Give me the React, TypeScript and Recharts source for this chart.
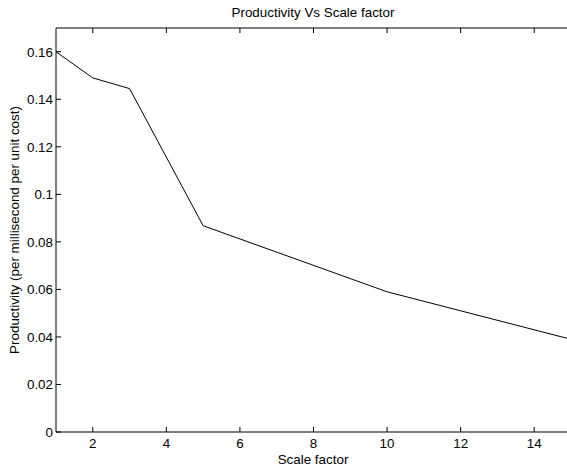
import { LineChart, Line, XAxis, YAxis } from "recharts";

const scaleFactor = [1, 2, 3, 5, 10, 15];
const productivity = [0.16, 0.149, 0.1445, 0.0868, 0.059, 0.039];
const xTicks = [2, 4, 6, 8, 10, 12, 14];
const yTicks = [0, 0.02, 0.04, 0.06, 0.08, 0.1, 0.12, 0.14, 0.16];
const yLabels = ["0", "0.02", "0.04", "0.06", "0.08", "0.1", "0.12", "0.14", "0.16"];

const data = scaleFactor.map((s, i) => ({ s, p: productivity[i] }));

const FONT = "'Liberation Sans', Arial, Helvetica, sans-serif";
const FS = 13.4;
const TICK = 5;

function BottomTick({ x, y, payload }: any) {
  return (
    <g>
      <line x1={x} y1={y} x2={x} y2={y - TICK} stroke="#000" />
      <text x={x} y={y + 16} textAnchor="middle" fontSize={FS} fontFamily={FONT} fill="#000">
        {payload.value}
      </text>
    </g>
  );
}

function TopTick({ x, y }: any) {
  return <line x1={x} y1={y} x2={x} y2={y + TICK} stroke="#000" />;
}

function LeftTick({ x, y, payload, index }: any) {
  return (
    <g>
      <line x1={x} y1={y} x2={x + TICK} y2={y} stroke="#000" />
      <text x={x - 3} y={y + 5} textAnchor="end" fontSize={FS} fontFamily={FONT} fill="#000">
        {yLabels[index] ?? payload.value}
      </text>
    </g>
  );
}

function RightTick({ x, y }: any) {
  return <line x1={x} y1={y} x2={x - TICK} y2={y} stroke="#000" />;
}

export default function App() {
  return (
    <div
      style={{
        position: "absolute",
        left: 0,
        top: 0,
        width: 567,
        height: 469,
        overflow: "hidden",
        background: "#fff",
      }}
    >
      <LineChart width={580} height={469} data={data} margin={{ top: 0, right: 0, bottom: 0, left: 0 }}>
        <XAxis
          xAxisId="b"
          dataKey="s"
          type="number"
          domain={[1, 15]}
          ticks={xTicks}
          height={37}
          tickSize={0}
          tickMargin={0}
          tick={<BottomTick />}
          axisLine={{ stroke: "#000" }}
          tickLine={false}
        />
        <XAxis
          xAxisId="t"
          orientation="top"
          dataKey="s"
          type="number"
          domain={[1, 15]}
          ticks={xTicks}
          height={28}
          tickSize={0}
          tickMargin={0}
          tick={<TopTick />}
          axisLine={{ stroke: "#000" }}
          tickLine={false}
        />
        <YAxis
          yAxisId="l"
          type="number"
          domain={[0, 0.17]}
          ticks={yTicks}
          width={56}
          tickSize={0}
          tickMargin={0}
          tick={<LeftTick />}
          axisLine={{ stroke: "#000" }}
          tickLine={false}
        />
        <YAxis
          yAxisId="r"
          orientation="right"
          type="number"
          domain={[0, 0.17]}
          ticks={yTicks}
          width={9}
          tickSize={0}
          tickMargin={0}
          tick={<RightTick />}
          axisLine={{ stroke: "#000" }}
          tickLine={false}
        />
        <Line
          xAxisId="b"
          yAxisId="l"
          dataKey="p"
          type="linear"
          stroke="#000"
          strokeWidth={1}
          dot={false}
          isAnimationActive={false}
        />
      </LineChart>
      <svg
        width={567}
        height={469}
        style={{ position: "absolute", left: 0, top: 0, pointerEvents: "none" }}
        fontFamily={FONT}
      >
        <text x={313} y={17} textAnchor="middle" fontSize={FS} fill="#000">
          Productivity Vs Scale factor
        </text>
        <text x={313} y={464} textAnchor="middle" fontSize={FS} fill="#000">
          Scale factor
        </text>
        <text
          x={0}
          y={0}
          transform="translate(19 230) rotate(-90)"
          textAnchor="middle"
          fontSize={FS}
          fill="#000"
        >
          Productivity (per millisecond per unit cost)
        </text>
      </svg>
    </div>
  );
}
